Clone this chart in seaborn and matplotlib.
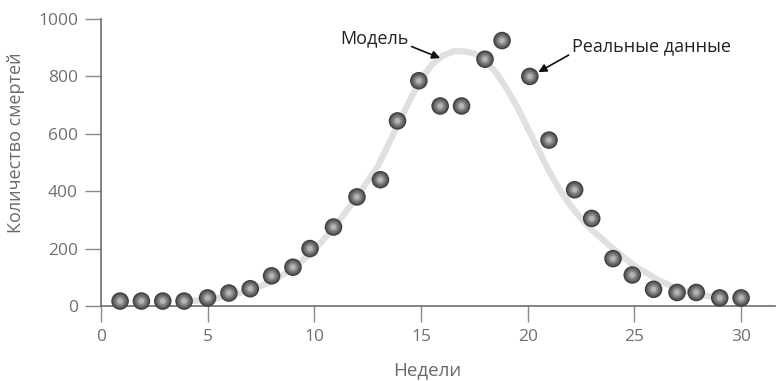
import matplotlib.pyplot as plt
import seaborn as sns
import pandas as pd

# observed deaths per week
weeks = [0.9, 1.9, 2.9, 3.9, 5.0, 6.0, 7.0, 8.0, 9.0, 9.8, 10.9, 12.0, 13.1, 13.9, 14.9,
         15.9, 16.9, 18.0, 18.8, 20.1, 21.0, 22.2, 23.0, 24.0, 24.9, 25.9, 27.0, 27.9, 29.0, 30.0]
deaths = [17, 17, 17, 17, 28, 45, 60, 105, 135, 200, 275, 380, 440, 645, 785,
          697, 697, 860, 925, 800, 578, 405, 305, 165, 108, 58, 47, 47, 28, 28]

# model curve
model_weeks = [4, 5, 6, 7, 8, 9, 10, 11, 12, 13, 14, 14.5, 15, 15.5, 16, 16.5, 17, 17.5,
               18, 18.5, 19, 19.5, 20, 20.5, 21, 21.5, 22, 22.5, 23, 24, 25, 26, 27, 28, 29]
model_deaths = [15, 22, 35, 55, 85, 130, 195, 280, 380, 490, 645, 720, 790, 840, 872, 887, 888, 880,
                855, 815, 760, 695, 620, 545, 470, 405, 350, 305, 265, 200, 140, 95, 60, 40, 28]

obs = pd.DataFrame({"week": weeks, "deaths": deaths})
model = pd.DataFrame({"week": model_weeks, "deaths": model_deaths})

sns.set_style("white")
plt.rcParams["font.family"] = ["Open Sans", "DejaVu Sans"]

fig = plt.figure(figsize=(7.76, 3.81), dpi=100)
ax = fig.add_axes([0.130, 0.197, 0.869, 0.753])

sns.lineplot(data=model, x="week", y="deaths", ax=ax, color="#e0e0e0", linewidth=4.5,
             solid_capstyle="round", solid_joinstyle="round", zorder=1)

# shaded balls: layered discs, dark rim to light centre
layers = [(160, "#3e3e3e"), (120, "#575757"), (80, "#6f6f6f"), (45, "#8b8b8b"), (16, "#b4b4b4")]
for size, col in layers:
    sns.scatterplot(data=obs, x="week", y="deaths", ax=ax, s=size, color=col,
                    edgecolor="none", linewidth=0, zorder=3, clip_on=False)

ax.set_xlim(0, 31.6)
ax.set_ylim(0, 1000)
ax.set_xticks([0, 5, 10, 15, 20, 25, 30])
ax.set_yticks([0, 200, 400, 600, 800, 1000])

for side in ["top", "right"]:
    ax.spines[side].set_visible(False)
for side in ["left", "bottom"]:
    ax.spines[side].set_color("#6e6e6e")
    ax.spines[side].set_linewidth(1.2)

ax.tick_params(axis="both", bottom=True, left=True, direction="out", length=11.5,
               width=1.0, color="#8a8a8a", labelsize=12.5, labelcolor="#707070", pad=5)

ax.set_xlabel("Недели", fontsize=13.5, color="#6a6a6a", va="center")
ax.set_ylabel("Количество смертей", fontsize=13, color="#6a6a6a", va="center")
ax.xaxis.set_label_coords(15.3 / 31.6, -0.223)
ax.yaxis.set_label_coords(-0.126, 0.57)

arrow = dict(arrowstyle="-|>", color="#111111", lw=1.2, mutation_scale=12,
             shrinkA=0, shrinkB=0)
ax.annotate("Модель", xy=(15.9, 864), xytext=(12.8, 934), fontsize=13,
            color="#222222", ha="center", va="center",
            arrowprops=dict(arrow, relpos=(1.0, 0.1)))
ax.annotate("Реальные данные", xy=(20.5, 815), xytext=(25.8, 906), fontsize=13,
            color="#222222", ha="center", va="center",
            arrowprops=dict(arrow, relpos=(0.0, 0.1)))

fig.savefig("out.png", dpi=100)
